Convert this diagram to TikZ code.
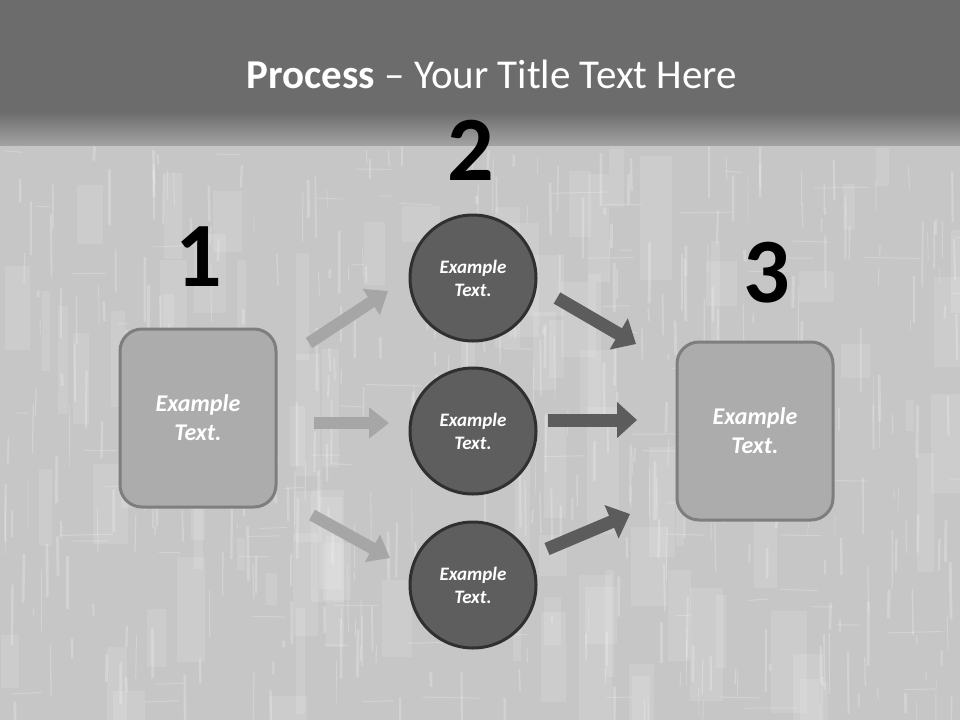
\documentclass[tikz,border=0pt]{standalone}
\usepackage{fontspec}
\setmainfont{Carlito}
\usetikzlibrary{arrows.meta}
\definecolor{bgc}{HTML}{C6C6C6}
\definecolor{hdr}{HTML}{6C6C6C}
\definecolor{hdrlow}{HTML}{A2A2A2}
\definecolor{boxfill}{HTML}{ACACAC}
\definecolor{boxline}{HTML}{7E7E7E}
\definecolor{circfill}{HTML}{5E5E5E}
\definecolor{circline}{HTML}{303030}
\definecolor{lightarr}{HTML}{A6A6A6}
\definecolor{darkarr}{HTML}{5C5C5C}
\tikzset{
  box/.style={rounded corners=22pt, minimum width=156pt, minimum height=178pt,
    fill=boxfill, draw=boxline, line width=3pt, align=center, text=white,
    font=\bfseries\itshape\fontsize{24}{29}\selectfont},
  disc/.style={circle, minimum size=126pt, fill=circfill, draw=circline,
    line width=3pt, align=center, text=white, inner sep=0pt,
    font=\bfseries\itshape\fontsize{19}{23}\selectfont},
  num/.style={inner sep=0pt, text=black, font=\bfseries\fontsize{92}{92}\selectfont},
  larr/.style={lightarr, line width=12pt, -{Triangle[width=30pt,length=20pt]}},
  darr/.style={darkarr, line width=13pt, -{Triangle[width=35pt,length=20pt]}},
  streak/.style={white, opacity=0.22},
  blot/.style={white, opacity=0.12}
}
\begin{document}
\begin{tikzpicture}[x=1pt,y=-1pt]
\useasboundingbox (0,0) rectangle (960,720);
\fill[bgc] (0,0) rectangle (960,720);
% texture
\pgfmathsetseed{11}
\foreach \i in {1,...,90}{
  \pgfmathsetmacro\xx{960*rnd}
  \pgfmathsetmacro\yy{145+560*rnd}
  \pgfmathsetmacro\ww{8+30*rnd}
  \pgfmathsetmacro\hh{30+120*rnd}
  \fill[blot] (\xx,\yy) rectangle ++(\ww,\hh);
}
\foreach \i in {1,...,420}{
  \pgfmathsetmacro\xx{960*rnd}
  \pgfmathsetmacro\yy{145+560*rnd}
  \pgfmathsetmacro\ll{6+60*rnd}
  \pgfmathsetmacro\ww{0.6+2.4*rnd}
  \draw[streak, line width=\ww pt] (\xx,\yy) -- ++(2*rnd-1,\ll);
}
\foreach \i in {1,...,80}{
  \pgfmathsetmacro\xx{960*rnd}
  \pgfmathsetmacro\yy{150+560*rnd}
  \pgfmathsetmacro\ll{10+50*rnd}
  \draw[streak, line width=1pt] (\xx,\yy) -- ++(\ll,3*rnd-1.5);
}
% header
\fill[hdr] (0,0) rectangle (960,112);
\shade[top color=hdr, bottom color=hdrlow] (0,111.5) rectangle (960,145);
\node[text=white, anchor=base, inner sep=0pt, font=\fontsize{41}{50}\selectfont]
  (title) at (492,88) {\textbf{Process} – Your Title Text Here};
% numbers
\node[num] (n1) at (199,257) {1};
\node[num] (n2) at (471,150) {2};
\node[num] (n3) at (767,273) {3};
% boxes
\node[box] (b1) at (198,418) {Example\\Text.};
\node[box] (b3) at (755,431) {Example\\Text.};
% circles
\node[disc] (c1) at (473,278) {Example\\Text.};
\node[disc] (c2) at (473,431) {Example\\Text.};
\node[disc] (c3) at (473,585) {Example\\Text.};
% arrow end points
\coordinate (la1) at (309,343); \coordinate (lb1) at (388,291);
\coordinate (la2) at (314,423); \coordinate (lb2) at (389,423);
\coordinate (la3) at (312,515); \coordinate (lb3) at (390,558);
\coordinate (ra1) at (557,298); \coordinate (rb1) at (636,344);
\coordinate (ra2) at (548,420); \coordinate (rb2) at (637,420);
\coordinate (ra3) at (547,549); \coordinate (rb3) at (630,514);
\draw[larr] (la1) -- (lb1);
\draw[larr] (la2) -- (lb2);
\draw[larr] (la3) -- (lb3);
\draw[darr] (ra1) -- (rb1);
\draw[darr] (ra2) -- (rb2);
\draw[darr] (ra3) -- (rb3);
\end{tikzpicture}
\end{document}
